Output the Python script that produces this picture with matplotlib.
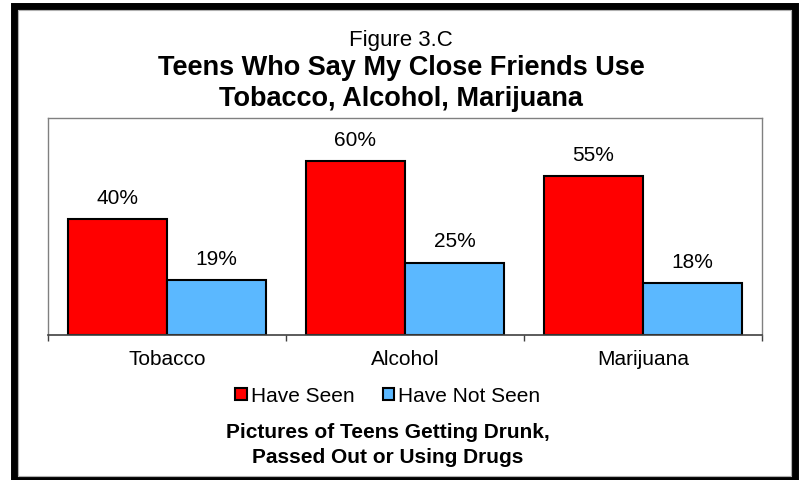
import numpy as np
import matplotlib
matplotlib.use("Agg")
import matplotlib.pyplot as plt
from matplotlib.patches import Patch, Rectangle

# chart data
categories = ["Tobacco", "Alcohol", "Marijuana"]
have_seen = [40, 60, 55]
have_not_seen = [19, 25, 18]
series_names = ["Have Seen", "Have Not Seen"]

plt.rcParams["font.family"] = ["Liberation Sans", "DejaVu Sans"]

fig = plt.figure(figsize=(8.04, 4.8), dpi=100)
fig.patch.set_facecolor("white")

# plot area
ax = fig.add_axes([48 / 804, 145 / 480, 714 / 804, 217 / 480])
x = np.arange(len(categories))
w = 0.4167
red = "#FF0000"
blue = "#5BB8FF"
bars1 = ax.bar(x - w / 2, have_seen, w, color=red, edgecolor="black", linewidth=1.5)
bars2 = ax.bar(x + w / 2, have_not_seen, w, color=blue, edgecolor="black", linewidth=1.5)

# value labels above bars
for bars, vals in [(bars1, have_seen), (bars2, have_not_seen)]:
    for b, v in zip(bars, vals):
        ax.annotate(f"{v}%", (b.get_x() + b.get_width() / 2, b.get_height()),
                    xytext=(0, 11), textcoords="offset points",
                    ha="center", va="baseline", fontsize=15)

ax.set_xlim(-0.5, 2.5)
ax.set_ylim(0, 75)
ax.set_yticks([])
ax.set_xticks(x)
ax.set_xticklabels(categories, fontsize=15)
ax.tick_params(axis="x", which="major", length=0, pad=11)
ax.set_xticks(np.arange(-0.5, 3, 1), minor=True)
ax.tick_params(axis="x", which="minor", length=4.5, width=1, color="#404040", direction="out")

for side in ["left", "top", "right"]:
    ax.spines[side].set_color("#808080")
    ax.spines[side].set_linewidth(1)
ax.spines["bottom"].set_color("#404040")
ax.spines["bottom"].set_linewidth(1.2)

# titles
fig.text(401 / 804, 434 / 480, "Figure 3.C", ha="center", va="baseline", fontsize=16)
fig.text(401 / 804, 405 / 480, "Teens Who Say My Close Friends Use", ha="center",
         va="baseline", fontsize=19.5, fontweight="bold")
fig.text(401 / 804, 374 / 480, "Tobacco, Alcohol, Marijuana", ha="center",
         va="baseline", fontsize=19.5, fontweight="bold")

# legend
handles = [Patch(facecolor=red, edgecolor="black", linewidth=1.5, label=series_names[0]),
           Patch(facecolor=blue, edgecolor="black", linewidth=1.5, label=series_names[1])]
fig.legend(handles=handles, loc="center", bbox_to_anchor=(388 / 804, 84 / 480), ncol=2,
           frameon=False, fontsize=15, handlelength=0.55, handleheight=0.55,
           handletextpad=0.2, columnspacing=1.35, borderpad=0)

# bottom caption
fig.text(388 / 804, 42 / 480, "Pictures of Teens Getting Drunk,", ha="center",
         va="baseline", fontsize=15, fontweight="bold")
fig.text(388 / 804, 17 / 480, "Passed Out or Using Drugs", ha="center",
         va="baseline", fontsize=15, fontweight="bold")

# outer frame (thick black, thin grey just inside)
fig.patches.append(Rectangle((14.5 / 804, 0.5 / 480), 781 / 804, 473.5 / 480,
                             transform=fig.transFigure, fill=False,
                             edgecolor="black", linewidth=5))
fig.patches.append(Rectangle((18.5 / 804, 4.5 / 480), 773 / 804, 465.5 / 480,
                             transform=fig.transFigure, fill=False,
                             edgecolor="#B0B0B0", linewidth=0.8))

fig.savefig("out.png", dpi=100)
